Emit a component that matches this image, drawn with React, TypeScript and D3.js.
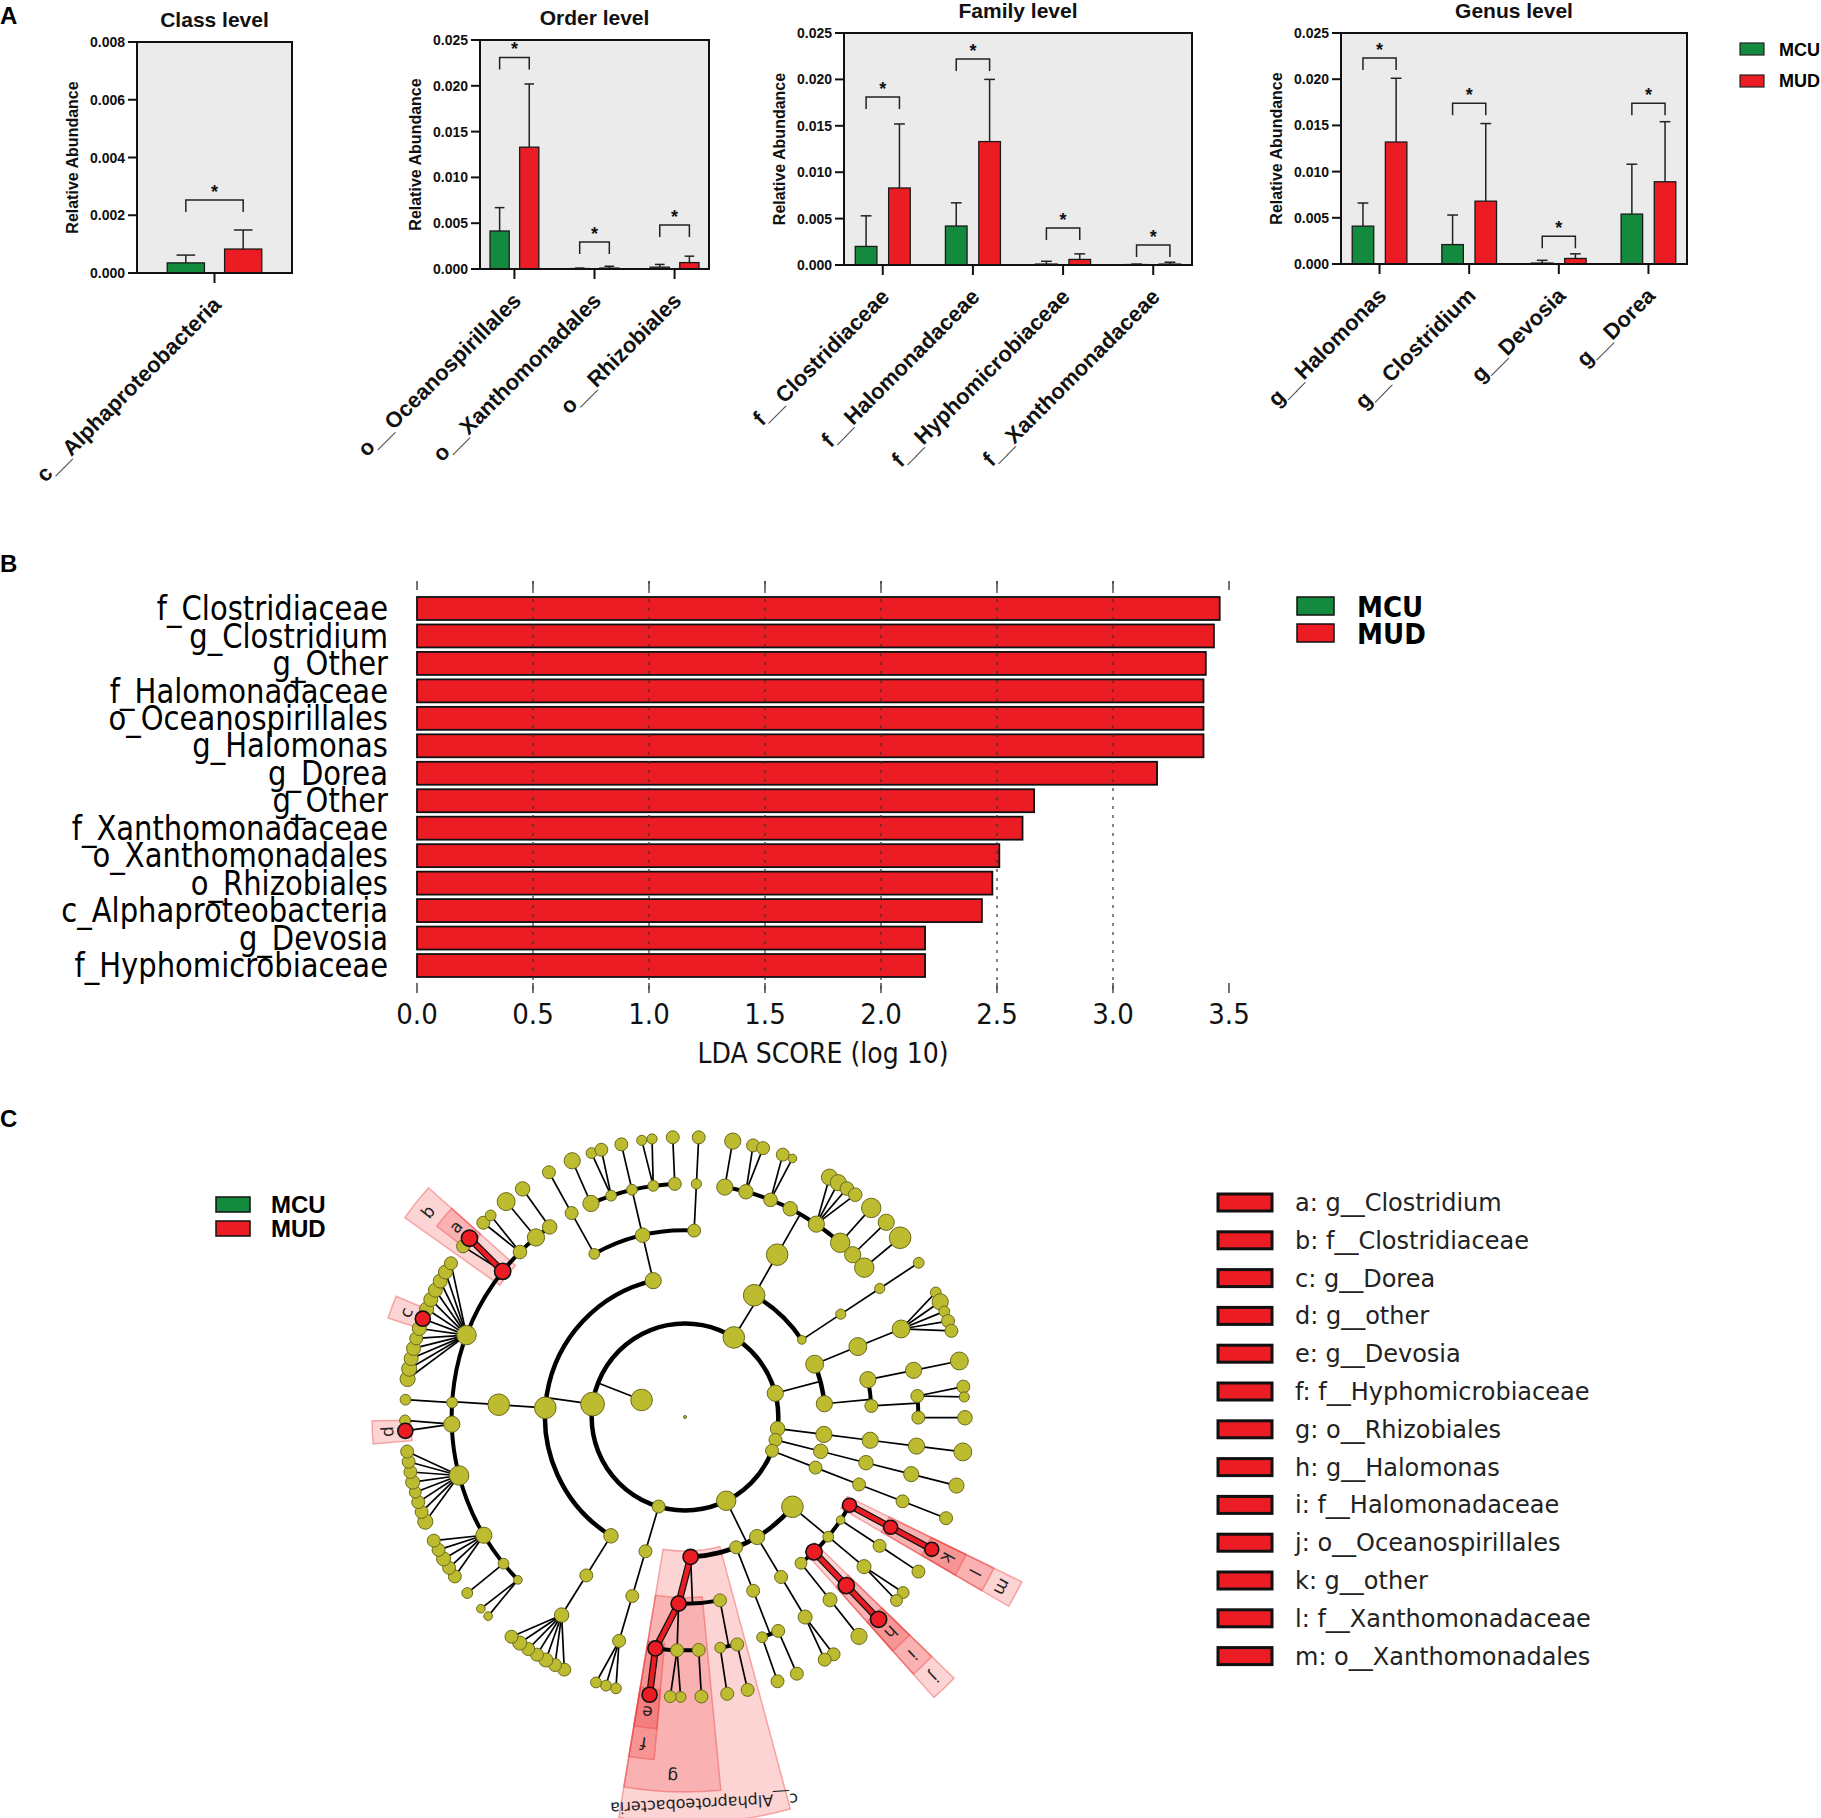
import React from 'react';
import * as d3 from 'd3';

const GREEN = '#138a3d';
const RED = '#ec1c24';
const OLIVE = '#bdbb2f';
const ARIAL = 'Liberation Sans, Arial, Helvetica, sans-serif';
const DEJAVU = 'DejaVu Sans, Verdana, sans-serif';

// ---------------- Panel A data ----------------
const classCats = ['c__Alphaproteobacteria'];
const classMCU = [0.00035];
const classMCUsd = [0.00027];
const classMUD = [0.00083];
const classMUDsd = [0.00066];
const classSig = [0.00253];
const classTicks = [0, 0.002, 0.004, 0.006, 0.008];

const orderCats = ['o__Oceanospirillales', 'o__Xanthomonadales', 'o__Rhizobiales'];
const orderMCU = [0.00415, 0.00005, 0.0002];
const orderMCUsd = [0.00255, 0.00005, 0.0003];
const orderMUD = [0.0133, 0.0001, 0.0007];
const orderMUDsd = [0.0069, 0.0002, 0.0007];
const orderSig = [0.0231, 0.00295, 0.0048];

const familyCats = ['f__Clostridiaceae', 'f__Halomonadaceae', 'f__Hyphomicrobiaceae', 'f__Xanthomonadaceae'];
const familyMCU = [0.002, 0.0042, 0.0001, 0.00005];
const familyMCUsd = [0.0033, 0.0025, 0.0003, 0.00005];
const familyMUD = [0.0083, 0.0133, 0.0006, 0.0001];
const familyMUDsd = [0.0069, 0.0067, 0.0006, 0.0002];
const familySig = [0.0181, 0.0222, 0.004, 0.00216];

const genusCats = ['g__Halomonas', 'g__Clostridium', 'g__Devosia', 'g__Dorea'];
const genusMCU = [0.0041, 0.0021, 0.0001, 0.0054];
const genusMCUsd = [0.0025, 0.0032, 0.0003, 0.0054];
const genusMUD = [0.0132, 0.0068, 0.0006, 0.0089];
const genusMUDsd = [0.0069, 0.0084, 0.0005, 0.0065];
const genusSig = [0.0223, 0.0174, 0.003, 0.0174];

const abundTicks = [0, 0.005, 0.01, 0.015, 0.02, 0.025];
const groupNames = ['MCU', 'MUD'];

// ---------------- Panel B data ----------------
const ldaLabels = [
  'f_Clostridiaceae', 'g_Clostridium', 'g_Other', 'f_Halomonadaceae', 'o_Oceanospirillales',
  'g_Halomonas', 'g_Dorea', 'g_Other', 'f_Xanthomonadaceae', 'o_Xanthomonadales',
  'o_Rhizobiales', 'c_Alphaproteobacteria', 'g_Devosia', 'f_Hyphomicrobiaceae',
];
const ldaScores = [3.46, 3.435, 3.4, 3.39, 3.39, 3.39, 3.19, 2.66, 2.61, 2.51, 2.48, 2.435, 2.19, 2.19];
const ldaTicks = [0, 0.5, 1, 1.5, 2, 2.5, 3, 3.5];

// ---------------- Panel C data (cladogram) ----------------
// node = [name, size, children, highlightKey]
const cladeProteobacteria: any = ['p__Proteobacteria', 9, [
  ['c__Gammaproteobacteria', 10, [
    ['o__Xanthomonadales', 6.5, [['f__Xanthomonadaceae', 6.5, [['g__other', 6.5, [], 'k']], 'l']], 'm'],
    ['o__G2', 4, [['f__G2', 6, [['g__G2', 6]]]]],
    ['o__G3', 5, [['f__G3', 6.5, [['g__G3a', 5.5], ['g__G3b', 5.5]]]]],
    ['o__Oceanospirillales', 7.5, [['f__Halomonadaceae', 7.5, [['g__Halomonas', 7.5, [], 'h']], 'i']], 'j'],
    ['o__G5', 5.5, [['f__G5', 6.5, [['g__G5', 7.5]]]]],
  ]],
  ['c__P2', 7, [['o__P2', 6, [['f__P2', 6.5, [['g__P2a', 6], ['g__P2b', 6]]]]]]],
  ['c__P3', 6, [['o__P3', 6, [['f__P3a', 6, [['g__P3a', 6]]], ['f__P3b', 5, [['g__P3b', 6]]]]]]],
  ['c__Alphaproteobacteria', 7, [
    ['o__A1', 6, [['f__A1', 6, [['g__A1', 6]]], ['f__A2', 5, [['g__A2', 6]]]]],
    ['o__Rhizobiales', 7, [
      ['f__A3', 6, [['g__A3', 6]]],
      ['f__A4', 6, [['g__A4a', 5], ['g__A4b', 5.5]]],
      ['f__Hyphomicrobiaceae', 7, [['g__Devosia', 7, [], 'e']], 'f'],
    ], 'g'],
  ], 'c__Alphaproteobacteria'],
]];

const cladeP2: any = ['p__Q1', 6, [['c__Q1', 6, [['o__Q1', 6, [['f__Q1', 6, [['g__Q1a', 5], ['g__Q1b', 5], ['g__Q1c', 5]]]]]]]]];

const cladeFirmicutes: any = ['p__Firmicutes', 11, [
  ['c__F1', 6.7, [['o__F1', 6, [['f__F1', 6.7, [['g__F1a', 6], ['g__F1b', 6], ['g__F1c', 6.5], ['g__F1d', 6], ['g__F1e', 6], ['g__F1f', 6.5], ['g__F1g', 6]]]]]]],
  ['c__Clostridia', 10, [['o__Clostridiales', 10, [
    ['f__C1', 4, [['g__C1a', 4], ['g__C1b', 4]]],
    ['f__C2', 5, [['g__C2', 5]]],
    ['f__C3', 7.5, [['g__C3a', 6], ['g__C3b', 6], ['g__C3c', 6.5], ['g__C3d', 6], ['g__C3e', 6]]],
    ['f__C4', 9, [['g__C4a', 7], ['g__C4b', 6], ['g__C4c', 6], ['g__C4d', 5.5], ['g__C4e', 6.5], ['g__C4f', 6], ['g__C4g', 6], ['g__C4h', 6]]],
    ['f__C5', 7.5, [['g__other', 7, [], 'd'], ['g__C5', 5]]],
    ['f__C6', 5, [['g__C6', 5]]],
    ['f__Lachnospiraceae', 9, [['g__L1', 7], ['g__L2', 7], ['g__L3', 6.5], ['g__L4', 6.5], ['g__L5', 6], ['g__L6', 6.5], ['g__Dorea', 7, [], 'c'], ['g__L7', 6.5], ['g__L8', 6.5], ['g__L9', 6.5], ['g__L10', 6.5], ['g__L11', 6.5], ['g__L12', 6]]],
    ['f__Clostridiaceae', 7.5, [['g__CL1', 6], ['g__Clostridium', 7.5, [], 'a']], 'b'],
    ['f__C7', 6.3, [['g__C7a', 6], ['g__C7b', 5]]],
    ['f__C8', 8, [['g__C8', 8.3]]],
    ['f__C9', 6.7, [['g__C9', 6.7]]],
  ]]]],
  ['c__Bacilli', 7.5, [
    ['o__B1', 5, [['f__B1', 6, [['g__B1', 6]]]]],
    ['o__B2', 6.7, [
      ['f__B2', 7.5, [['g__B2', 7.5]]],
      ['f__B3', 5, [['g__B3a', 5], ['g__B3b', 6]]],
      ['f__B4', 5, [['g__B4', 6]]],
      ['f__B5', 5, [['g__B5a', 4.7], ['g__B5b', 4.7]]],
      ['f__B6', 6, [['g__B6', 6]]],
    ]],
    ['o__B3', 6, [['f__B7', 4.7, [['g__B7', 6]]]]],
  ]],
]];

const cladeP4: any = ['p__Bacteroidetes', 10, [
  ['c__D1', 10, [['o__D1', 10, [
    ['f__D1', 7.5, [['g__D1', 7.5]]],
    ['f__D2', 6.7, [['g__D2a', 6], ['g__D2b', 6]]],
    ['f__D3', 6.3, [['g__D3a', 6], ['g__D3b', 4]]],
    ['f__D4', 6.7],
    ['f__D5', 7.5, [['g__D5a', 7.5], ['g__D5b', 7.5], ['g__D5c', 6.3], ['g__D5d', 6.3]]],
    ['f__D6', 9, [['g__D6', 9]]],
    ['f__D7', 7.5, [['g__D7', 7.5]]],
    ['f__D8', 9, [['g__D8', 10]]],
  ]]]],
  ['c__D2', 4, [['o__D2', 4.7, [['f__D9', 4.7, [['g__D9', 5]]]]]]],
]];

const cladeP5: any = ['p__E', 7.5, [
  ['c__E1', 8.3, [['o__E1', 8.3, [['f__E1', 8.3, [['g__E1a', 5], ['g__E1b', 7.5], ['g__E1c', 5], ['g__E1d', 6], ['g__E1e', 6]]]]]]],
  ['c__E2', 7.5, [
    ['o__E2', 7.5, [['f__E2', 7.5, [['g__E2', 8.3]]]]],
    ['o__E3', 6, [['f__E3', 6, [['g__E3a', 6], ['g__E3b', 4.7]]], ['f__E4', 6, [['g__E4', 6.7]]]]],
  ]],
]];

const cladeP6: any = ['p__H', 6.7, [['c__H', 7.5, [['o__H', 7.5, [['f__H', 7.5, [['g__H', 8.3]]]]]]]]];
const cladeP7: any = ['p__I', 6, [['c__I', 6.7, [['o__I', 6.7, [['f__I', 7, [['g__I', 7]]]]]]]]];
const cladeP8: any = ['p__J', 6, [['c__J', 6, [['o__J', 6, [['f__J', 6, [['g__J', 6]]]]]]]]];

const cladeRoot: any = ['root', 1.4, [
  ['k__Bacteria', 10, [cladeProteobacteria, cladeP2, cladeFirmicutes, cladeP4, cladeP5, cladeP6, cladeP7, cladeP8]],
]];

// separation between neighbouring leaves, by depth of their common ancestor
const cladeSeparation = [3.3, 3.3, 3, 2.5, 2, 1];
const cladeStartDeg = 118.2;

const cladeLegend = [
  ['a', 'g__Clostridium'], ['b', 'f__Clostridiaceae'], ['c', 'g__Dorea'], ['d', 'g__other'],
  ['e', 'g__Devosia'], ['f', 'f__Hyphomicrobiaceae'], ['g', 'o__Rhizobiales'], ['h', 'g__Halomonas'],
  ['i', 'f__Halomonadaceae'], ['j', 'o__Oceanospirillales'], ['k', 'g__other'],
  ['l', 'f__Xanthomonadaceae'], ['m', 'o__Xanthomonadales'],
];

// ---------------- Panel A ----------------
const panelsA = [
  { title: 'Class level', cats: classCats, mcu: classMCU, mcuSd: classMCUsd, mud: classMUD, mudSd: classMUDsd, sig: classSig, left: 137, right: 292, top: 42, bottom: 273, max: 0.008, ticks: classTicks },
  { title: 'Order level', cats: orderCats, mcu: orderMCU, mcuSd: orderMCUsd, mud: orderMUD, mudSd: orderMUDsd, sig: orderSig, left: 480, right: 709, top: 40, bottom: 269, max: 0.025, ticks: abundTicks },
  { title: 'Family level', cats: familyCats, mcu: familyMCU, mcuSd: familyMCUsd, mud: familyMUD, mudSd: familyMUDsd, sig: familySig, left: 844, right: 1192, top: 33, bottom: 265, max: 0.025, ticks: abundTicks },
  { title: 'Genus level', cats: genusCats, mcu: genusMCU, mcuSd: genusMCUsd, mud: genusMUD, mudSd: genusMUDsd, sig: genusSig, left: 1341, right: 1687, top: 33, bottom: 264, max: 0.025, ticks: abundTicks },
];

function BarPanel({ cfg }: any) {
  const { title, cats, mcu, mcuSd, mud, mudSd, sig, left, right, top, bottom, max, ticks } = cfg;
  const y = d3.scaleLinear().domain([0, max]).range([bottom, top]);
  const x = d3.scalePoint().domain(cats).range([left, right]).padding(0.43);
  const step = x.step();
  const bw = step * 0.24;
  const off = step * 0.185;
  const fmt = d3.format('.3f');
  return (
    <g fontFamily={ARIAL} fontWeight="bold" fill="#111">
      <text x={(left + right) / 2} y={top - 15} textAnchor="middle" fontSize={21}>{title}</text>
      <rect x={left} y={top} width={right - left} height={bottom - top} fill="#ebebeb" />
      {cats.map((c: string, i: number) => {
        const cx = x(c) as number;
        const groups = [
          [cx - off, mcu[i], mcuSd[i], GREEN],
          [cx + off, mud[i], mudSd[i], RED],
        ];
        const ys = y(sig[i]);
        return (
          <g key={c}>
            {groups.map(([bx, v, sd, col]: any, j: number) => (
              <g key={j}>
                <line x1={bx} x2={bx} y1={y(v)} y2={y(v + sd)} stroke="#222" strokeWidth={1.5} />
                <line x1={bx - bw / 4} x2={bx + bw / 4} y1={y(v + sd)} y2={y(v + sd)} stroke="#222" strokeWidth={1.5} />
                <rect x={bx - bw / 2} y={y(v)} width={bw} height={Math.max(0.8, bottom - y(v))} fill={col} stroke="#1a1a1a" strokeWidth={1.3} />
              </g>
            ))}
            <path d={`M${cx - off},${ys + 12}V${ys}H${cx + off}V${ys + 12}`} fill="none" stroke="#222" strokeWidth={1.5} />
            <text x={cx} y={ys - 2} textAnchor="middle" fontSize={18}>*</text>
            <line x1={cx} x2={cx} y1={bottom} y2={bottom + 10} stroke="#111" strokeWidth={2} />
            <text transform={`translate(${cx + 8},${bottom + 33}) rotate(-45)`} textAnchor="end" fontSize={22}>{c}</text>
          </g>
        );
      })}
      <rect x={left} y={top} width={right - left} height={bottom - top} fill="none" stroke="#111" strokeWidth={2} />
      {ticks.map((t: number) => (
        <g key={t}>
          <line x1={left - 9} x2={left} y1={y(t)} y2={y(t)} stroke="#111" strokeWidth={2} />
          <text x={left - 12} y={y(t)} textAnchor="end" dominantBaseline="central" fontSize={14}>{fmt(t)}</text>
        </g>
      ))}
      <text transform={`translate(${left - 65},${(top + bottom) / 2}) rotate(-90)`} textAnchor="middle" dominantBaseline="central" fontSize={16}>Relative Abundance</text>
    </g>
  );
}

function LegendA() {
  const cols = [GREEN, RED];
  return (
    <g fontFamily={ARIAL} fontWeight="bold">
      {groupNames.map((n, i) => (
        <g key={n}>
          <rect x={1740} y={43 + i * 32} width={24} height={12} fill={cols[i]} stroke="#222" strokeWidth={1.2} />
          <text x={1779} y={56 + i * 31} fontSize={18}>{n}</text>
        </g>
      ))}
    </g>
  );
}

// ---------------- Panel B ----------------
function LdaPanel() {
  const x = d3.scaleLinear().domain([0, 3.5]).range([417, 1229]);
  const idx = d3.range(ldaLabels.length);
  const y = d3.scaleBand<number>().domain(idx).range([597, 977]).paddingInner(0.164);
  const top = 581, bottom = 993;
  const fmt = d3.format('.1f');
  const cols = [GREEN, RED];
  const SX = 0.88;
  return (
    <g fontFamily={DEJAVU}>
      {idx.map((i) => (
        <g key={i}>
          <rect x={x(0)} y={y(i)} width={x(ldaScores[i]) - x(0)} height={y.bandwidth()} fill={RED} stroke="#111" strokeWidth={1.8} />
          <g transform={`translate(388,${(y(i) as number) + y.bandwidth() / 2}) scale(${SX},1)`}>
            <text x={0} y={0} textAnchor="end" dominantBaseline="central" fontSize={33} fill="#000">{ldaLabels[i]}</text>
          </g>
        </g>
      ))}
      {ldaTicks.map((t) => (
        <g key={t}>
          {t > 0 && t < 3.5 && (
            <line x1={x(t)} x2={x(t)} y1={top} y2={bottom} stroke="#333" strokeWidth={1.2} strokeDasharray="3,6" />
          )}
          <line x1={x(t)} x2={x(t)} y1={top} y2={top + 9} stroke="#444" strokeWidth={1.5} />
          <line x1={x(t)} x2={x(t)} y1={bottom - 10} y2={bottom} stroke="#444" strokeWidth={1.5} />
          <g transform={`translate(${x(t)},1024) scale(0.9,1)`}>
            <text x={0} y={0} textAnchor="middle" fontSize={29} fill="#111">{fmt(t)}</text>
          </g>
        </g>
      ))}
      <g transform="translate(823,1063) scale(0.9,1)">
        <text x={0} y={0} textAnchor="middle" fontSize={28} fill="#111">LDA SCORE (log 10)</text>
      </g>
      {groupNames.map((n, i) => (
        <g key={n}>
          <rect x={1297} y={597 + i * 27} width={37} height={18} fill={cols[i]} stroke="#111" strokeWidth={1.5} />
          <g transform={`translate(1357,${617 + i * 27}) scale(0.9,1)`}>
            <text x={0} y={0} fontSize={29} fontWeight="bold" fill="#000">{n}</text>
          </g>
        </g>
      ))}
    </g>
  );
}

// ---------------- Panel C ----------------
const CX = 685, CY = 1417;
const pt = (a: number, r: number) => [CX + r * Math.sin(a), CY - r * Math.cos(a)];

function Cladogram() {
  const root: any = d3.hierarchy(cladeRoot, (d: any) => (d[2] && d[2].length ? d[2] : null));
  const leaves: any[] = root.leaves();
  const sep = (a: any, b: any) => {
    const path = a.path(b);
    const lca = d3.min(path, (n: any) => n.depth) as number;
    return cladeSeparation[lca];
  };
  const cum = [0];
  for (let i = 1; i < leaves.length; i++) cum.push(cum[i - 1] + sep(leaves[i - 1], leaves[i]));
  const total = cum[cum.length - 1] + sep(leaves[leaves.length - 1], leaves[0]);
  const start = (cladeStartDeg * Math.PI) / 180;
  const ang = d3.scaleLinear().domain([0, total]).range([start, start + 2 * Math.PI]);
  const unit = (2 * Math.PI) / total;
  leaves.forEach((l, i) => (l.a = ang(cum[i])));
  root.eachAfter((n: any) => {
    if (n.children) n.a = d3.mean(n.leaves(), (l: any) => l.a);
  });
  const rad = d3.scaleLinear().domain([0, 6]).range([0, 280]);
  const size = d3.scaleLinear().domain([0, 10]).range([0, 10.8]);
  const nodes: any[] = root.descendants();
  nodes.forEach((n) => {
    n.r = rad(n.depth);
    const p = pt(n.a, n.r);
    n.x = p[0];
    n.y = p[1];
    n.key = n.data[3];
  });

  // highlight wedges
  const wedges = nodes
    .filter((n) => n.key)
    .sort((a, b) => a.depth - b.depth)
    .map((n) => {
      const ls = n.leaves();
      const a0 = (d3.min(ls, (l: any) => l.a) as number) - unit;
      const a1 = (d3.max(ls, (l: any) => l.a) as number) + unit;
      const outer = 313 + 31 * (6 - n.depth);
      const inner = n.r - 6;
      const path = d3.arc()({ innerRadius: inner, outerRadius: outer, startAngle: a0, endAngle: a1 } as any) as string;
      const am = (a0 + a1) / 2;
      const lp = pt(am, outer - (n.key.length > 1 ? 19 : 15));
      return { n, path, lp, deg: (am * 180) / Math.PI };
    });

  // edges
  const thin: string[] = [];
  const thick: { d: string; w: number }[] = [];
  nodes.forEach((p) => {
    if (!p.children || p.depth === 0) return;
    if (p.depth <= 4) {
      const rc = rad(p.depth + 1);
      const s = pt(p.a, p.r);
      const e = pt(p.a, rc);
      thin.push(`M${s[0]},${s[1]}L${e[0]},${e[1]}`);
      const as = p.children.map((c: any) => c.a).concat([p.a]);
      const a0 = d3.min(as) as number;
      const a1 = d3.max(as) as number;
      const ctx = d3.path();
      if (a1 - a0 > (300 * Math.PI) / 180) {
        ctx.moveTo(CX + rc, CY);
        ctx.arc(CX, CY, rc, 0, 2 * Math.PI);
      } else {
        const q = pt(a0, rc);
        ctx.moveTo(q[0], q[1]);
        ctx.arc(CX, CY, rc, a0 - Math.PI / 2, a1 - Math.PI / 2);
      }
      thick.push({ d: ctx.toString(), w: p.depth <= 2 ? 4.5 : 4 });
    } else {
      p.children.forEach((c: any) => thin.push(`M${p.x},${p.y}L${c.x},${c.y}`));
    }
  });
  const redEdges = nodes.filter((n) => n.key && n.parent && n.parent.key);

  return (
    <g>
      {wedges.map((w, i) => (
        <path key={i} d={w.path} transform={`translate(${CX},${CY})`} fill="rgb(240,40,40)" fillOpacity={0.2} stroke="rgb(235,60,60)" strokeOpacity={0.4} strokeWidth={1.5} />
      ))}
      {thick.map((t, i) => (
        <path key={'t' + i} d={t.d} fill="none" stroke="#000" strokeWidth={t.w} />
      ))}
      {thin.map((d, i) => (
        <path key={'l' + i} d={d} fill="none" stroke="#000" strokeWidth={1.7} />
      ))}
      {redEdges.map((n, i) => (
        <g key={'r' + i}>
          <line x1={n.parent.x} y1={n.parent.y} x2={n.x} y2={n.y} stroke="#111" strokeWidth={7} />
          <line x1={n.parent.x} y1={n.parent.y} x2={n.x} y2={n.y} stroke={RED} strokeWidth={4.5} />
        </g>
      ))}
      {nodes
        .slice()
        .sort((a, b) => (a.key ? 1 : 0) - (b.key ? 1 : 0))
        .map((n, i) => (
          <circle key={'n' + i} cx={n.x} cy={n.y} r={size(n.data[1])} fill={n.key ? RED : OLIVE} stroke={n.key ? '#111' : '#6b6a1c'} strokeWidth={n.key ? 1.6 : 1} />
        ))}
      {wedges.map((w, i) => (
        <text key={'w' + i} transform={`translate(${w.lp[0]},${w.lp[1]}) rotate(${w.deg})`} textAnchor="middle" dominantBaseline="central" fontFamily={DEJAVU} fontSize={w.n.key.length > 1 ? 16 : 17} fill="#222">
          {w.n.key}
        </text>
      ))}
    </g>
  );
}

function LegendC() {
  const cols = [GREEN, RED];
  return (
    <g>
      <g fontFamily={ARIAL} fontWeight="bold">
        {groupNames.map((n, i) => (
          <g key={n}>
            <rect x={216} y={1197 + i * 24} width={34} height={15} fill={cols[i]} stroke="#111" strokeWidth={1.5} />
            <text x={271} y={1213 + i * 24} fontSize={24}>{n}</text>
          </g>
        ))}
      </g>
      <g fontFamily={DEJAVU}>
        {cladeLegend.map(([k, name], i) => (
          <g key={k}>
            <rect x={1218} y={1194 + i * 37.8} width={54} height={17} fill={RED} stroke="#111" strokeWidth={3} />
            <text x={1295} y={1211 + i * 37.8} fontSize={24} fill="#222">{`${k}: ${name}`}</text>
          </g>
        ))}
      </g>
    </g>
  );
}

export default function App() {
  return (
    <svg width={1821} height={1818} style={{ position: 'absolute', left: 0, top: 0, display: 'block' }}>
      <rect width={1821} height={1818} fill="#fff" />
      <g fontFamily={ARIAL} fontWeight="bold" fontSize={24} fill="#000">
        <text x={0} y={24}>A</text>
        <text x={0} y={572}>B</text>
        <text x={0} y={1127}>C</text>
      </g>
      {panelsA.map((p) => (
        <BarPanel key={p.title} cfg={p} />
      ))}
      <LegendA />
      <LdaPanel />
      <Cladogram />
      <LegendC />
    </svg>
  );
}
